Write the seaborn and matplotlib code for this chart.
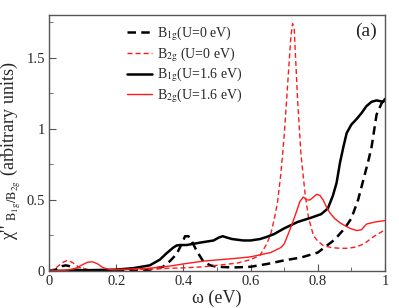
import numpy as np
import pandas as pd
import matplotlib
matplotlib.use("Agg")
import matplotlib.pyplot as plt
import seaborn as sns
from matplotlib.ticker import MultipleLocator, FuncFormatter

# B1g, U=0 eV (black dashed)
b1g_u0_x = [0, 0.02, 0.04, 0.05, 0.06, 0.08, 0.1, 0.2, 0.3, 0.34, 0.36, 0.38, 0.395, 0.405,
            0.415, 0.425, 0.44, 0.46, 0.48, 0.5, 0.55, 0.6, 0.65, 0.7, 0.75, 0.8, 0.85, 0.88,
            0.9, 0.92, 0.94, 0.95, 0.96, 0.975, 0.99, 1.0]
b1g_u0_y = [0, 0.01, 0.035, 0.04, 0.035, 0.01, 0.005, 0.005, 0.01, 0.03, 0.07, 0.12, 0.19, 0.245,
            0.245, 0.21, 0.14, 0.065, 0.04, 0.03, 0.025, 0.03, 0.05, 0.075, 0.095, 0.13, 0.22, 0.3,
            0.37, 0.5, 0.68, 0.77, 0.87, 1.1, 1.18, 1.21]

# B2g, U=0 eV (red dashed)
b2g_u0_x = [0, 0.02, 0.04, 0.055, 0.07, 0.09, 0.12, 0.2, 0.3, 0.36, 0.4, 0.46, 0.5, 0.56, 0.6,
            0.628, 0.648, 0.66, 0.67, 0.68, 0.69, 0.7, 0.71, 0.72, 0.725, 0.73, 0.74, 0.75,
            0.762, 0.772, 0.787, 0.8, 0.816, 0.84, 0.866, 0.89, 0.916, 0.94, 0.965, 1.0]
b2g_u0_y = [0, 0.02, 0.06, 0.075, 0.06, 0.025, 0.01, 0.01, 0.012, 0.02, 0.022, 0.03, 0.04, 0.056,
            0.08, 0.11, 0.19, 0.26, 0.36, 0.48, 0.68, 0.95, 1.3, 1.65, 1.74, 1.7, 1.2, 0.82,
            0.55, 0.38, 0.25, 0.21, 0.18, 0.165, 0.16, 0.16, 0.17, 0.195, 0.24, 0.29]

# B1g, U=1.6 eV (black solid)
b1g_u16_x = [0, 0.1, 0.2, 0.25, 0.3, 0.33, 0.35, 0.37, 0.38, 0.39, 0.41, 0.45, 0.49, 0.505, 0.517,
             0.53, 0.545, 0.578, 0.6, 0.628, 0.648, 0.67, 0.7, 0.74, 0.78, 0.81, 0.83, 0.845,
             0.856, 0.866, 0.876, 0.886, 0.9, 0.916, 0.93, 0.945, 0.96, 0.975, 0.995, 1.0]
b1g_u16_y = [0, 0.005, 0.01, 0.02, 0.04, 0.08, 0.125, 0.165, 0.18, 0.183, 0.183, 0.2, 0.215, 0.235,
             0.245, 0.235, 0.225, 0.215, 0.215, 0.225, 0.24, 0.26, 0.3, 0.345, 0.375, 0.4, 0.44,
             0.53, 0.62, 0.76, 0.87, 0.97, 1.03, 1.07, 1.11, 1.16, 1.19, 1.2, 1.19, 1.21]

# B2g, U=1.6 eV (red solid)
b2g_u16_x = [0, 0.05, 0.08, 0.1, 0.115, 0.13, 0.145, 0.16, 0.18, 0.2, 0.3, 0.36, 0.4, 0.46, 0.5,
             0.56, 0.6, 0.63, 0.66, 0.69, 0.7, 0.712, 0.725, 0.737, 0.747, 0.757, 0.767, 0.777,
             0.787, 0.797, 0.807, 0.816, 0.826, 0.836, 0.85, 0.866, 0.88, 0.896, 0.916, 0.93,
             0.945, 0.97, 1.0]
b2g_u16_y = [0, 0.005, 0.02, 0.045, 0.062, 0.065, 0.05, 0.025, 0.01, 0.01, 0.02, 0.035, 0.05, 0.07,
             0.078, 0.09, 0.1, 0.115, 0.13, 0.165, 0.19, 0.26, 0.34, 0.42, 0.49, 0.52, 0.5, 0.5,
             0.52, 0.54, 0.53, 0.5, 0.45, 0.41, 0.37, 0.34, 0.32, 0.3, 0.285, 0.29, 0.33, 0.345,
             0.355]

labels = [r"B$_{\mathrm{1g}}$(U=0 eV)", r"B$_{\mathrm{2g}}$ (U=0 eV)",
          r"B$_{\mathrm{1g}}$(U=1.6 eV)", r"B$_{\mathrm{2g}}$(U=1.6 eV)"]

sns.set_style("ticks")
plt.rcParams['font.family'] = ['Liberation Serif', 'DejaVu Serif']
plt.rcParams['mathtext.fontset'] = 'stix'

fig = plt.figure(figsize=(3.99, 3.08), dpi=100)
ax = fig.add_axes([0.1228, 0.120, 0.842, 0.831])

frame = '#555555'
red = '#ff1a1a'
sns.lineplot(x=b1g_u0_x, y=b1g_u0_y, ax=ax, color='black', lw=1.8,
             linestyle=(0, (3.4, 2.1)), label=labels[0])
sns.lineplot(x=b2g_u0_x, y=b2g_u0_y, ax=ax, color=red, lw=1.0,
             linestyle=(0, (3.6, 2.2)), label=labels[1])
sns.lineplot(x=b1g_u16_x, y=b1g_u16_y, ax=ax, color='black', lw=1.8, label=labels[2])
sns.lineplot(x=b2g_u16_x, y=b2g_u16_y, ax=ax, color=red, lw=1.0, label=labels[3])

ax.set_xlim(0, 1)
ax.set_ylim(0, 1.8)
ax.xaxis.set_major_locator(MultipleLocator(0.2))
ax.xaxis.set_minor_locator(MultipleLocator(0.1))
ax.yaxis.set_major_locator(MultipleLocator(0.5))
ax.yaxis.set_minor_locator(MultipleLocator(0.25))
fmt = FuncFormatter(lambda v, p: ('%g' % round(v, 3)))
ax.xaxis.set_major_formatter(fmt)
ax.yaxis.set_major_formatter(fmt)
ax.tick_params(which='both', direction='in', color=frame, labelsize=10.5, pad=3)
ax.tick_params(which='major', length=5)
ax.tick_params(which='minor', length=3)
for s in ax.spines.values():
    s.set_visible(True)
    s.set_color(frame)
    s.set_linewidth(1.0)

ax.set_xlabel("ω (eV)", fontsize=13, labelpad=1)
ax.set_ylabel(r"χ'' $_{\mathrm{B_{1g}/B_{2g}}}$ (arbitrary units)", fontsize=13, labelpad=2)
ax.yaxis.set_label_coords(-0.078, 0.47)
ax.text(0.975, 0.935, "(a)", transform=ax.transAxes, ha='right', va='center', fontsize=14)

ax.legend(loc='upper left', bbox_to_anchor=(0.215, 0.985), frameon=False, fontsize=10,
          handlelength=1.8, handletextpad=0.4, labelspacing=0.15, borderaxespad=0)

fig.savefig('out.png', dpi=100)
